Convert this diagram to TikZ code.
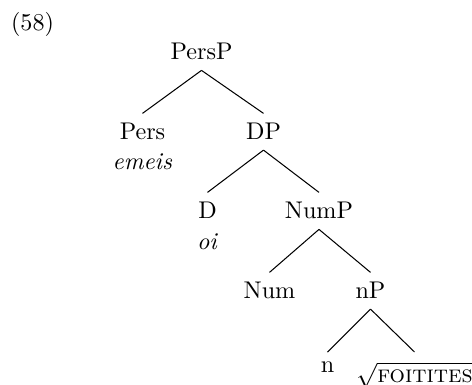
\documentclass[tikz,border=0pt]{standalone}
\begin{document}
\begin{tikzpicture}[x=0.4348pt,y=-0.4348pt,
  lab/.style={anchor=base,inner xsep=0pt,inner ysep=4.2pt,font=\fontsize{10.5}{12.6}\selectfont},
  edge/.style={draw=black,line width=0.45pt}]
\useasboundingbox (0,0) rectangle (472,385);
\node[lab] (ex) at (32.5,31) {(58)};
\node[lab] (persp) at (201.5,60) {PersP};
\node[lab] (pers) at (142.5,140) {Pers};
\node[lab] (emeis) at (142.5,170) {\textit{emeis}};
\node[lab] (dp) at (263.5,140) {DP};
\node[lab] (d) at (207.5,219) {D};
\node[lab] (oi) at (207.5,250) {\textit{oi}};
\node[lab] (nump) at (319,219) {NumP};
\node[lab] (num) at (269.5,299) {Num};
\node[lab] (np) at (370.5,299) {nP};
\node[lab] (n) at (327.5,373) {n};
\node[lab] (root) at (414.5,383) {$\sqrt{\textsc{foitites}}$};
\draw[edge] (persp.south) -- (pers.north);
\draw[edge] (persp.south) -- (dp.north);
\draw[edge] (dp.south) -- (d.north);
\draw[edge] (dp.south) -- (nump.north);
\draw[edge] (nump.south) -- (num.north);
\draw[edge] (nump.south) -- (np.north);
\draw[edge] (np.south) -- (n.north);
\draw[edge] (np.south) -- (root.north);
\end{tikzpicture}
\end{document}
